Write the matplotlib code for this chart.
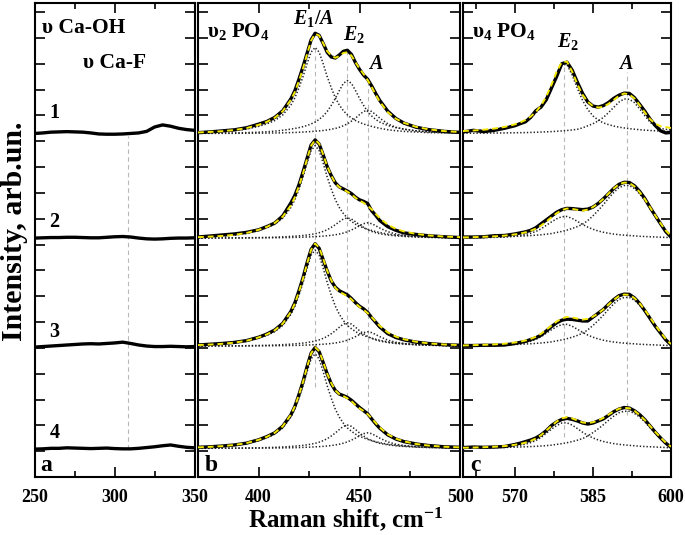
import numpy as np
import matplotlib
matplotlib.use('Agg')
import matplotlib.pyplot as plt

plt.rcParams['font.family'] = ['Liberation Serif', 'DejaVu Serif']
plt.rcParams['font.weight'] = 'bold'
plt.rcParams['mathtext.fontset'] = 'custom'
plt.rcParams['mathtext.rm'] = 'Liberation Serif:bold'
plt.rcParams['mathtext.it'] = 'Liberation Serif:italic:bold'
plt.rcParams['mathtext.bf'] = 'Liberation Serif:bold'

# ---------------- data ----------------
offsets = [13.30, 9.25, 5.07, 1.11]          # vertical stacking of spectra 1..4
labels_num = ['1', '2', '3', '4']

# panel a : 250-350 cm-1
x_a = [250, 255, 260, 265, 270, 275, 280, 285, 290, 295, 300,
       305, 310, 315, 320, 325, 330, 335, 340, 345, 350]
a_s1 = [0.0, 0.02, 0.05, 0.06, 0.07, 0.06, 0.05, 0.02, -0.02, -0.03, -0.03,
        -0.02, 0.0, 0.02, 0.08, 0.25, 0.33, 0.28, 0.2, 0.15, 0.12]
a_s2 = [0, .01, .02, .02, .03, .03, .02, .01, .01, .03, .05,
        .06, .04, .0, -.03, -.04, -.03, -.01, 0, .0, .01]
a_s3 = [-.04, -.02, 0, .02, .04, .06, .08, .09, .08, .1, .12,
        .15, .1, .04, .0, -.02, -.02, -.01, -.02, -.03, -.02]
a_s4 = [-.03, -.02, 0, .0, .02, .01, .0, -.01, .0, .01, -.01,
        -.02, -.02, .0, .03, .06, .1, .13, .08, .04, .02]

# panel b : 370-500 cm-1 (v2 PO4)
x_b = [370, 376, 382, 388, 394, 400, 404, 408, 412, 416, 418, 420, 422, 424,
       426, 428, 430, 432, 434, 436, 438, 440, 442, 444, 446, 448, 450, 452,
       454, 456, 458, 460, 464, 468, 472, 478, 484, 492, 500]
b_s1 = [0.03, 0.06, 0.10, 0.14, 0.22, 0.36, 0.46, 0.62, 0.88, 1.34, 1.66, 2.10, 2.58, 3.10,
        3.62, 3.88, 3.80, 3.48, 3.14, 2.96, 2.92, 3.04, 3.18, 3.22, 3.06, 2.74, 2.48, 2.26,
        2.10, 1.84, 1.55, 1.28, 0.86, 0.58, 0.40, 0.24, 0.15, 0.08, 0.04]
b_s2 = [0.04, 0.08, 0.12, 0.16, 0.22, 0.32, 0.44, 0.58, 0.86, 1.36, 1.66, 2.06, 2.56, 3.08,
        3.60, 3.80, 3.64, 3.22, 2.76, 2.42, 2.14, 1.98, 1.90, 1.82, 1.72, 1.58, 1.48, 1.42,
        1.34, 1.06, 0.88, 0.68, 0.44, 0.30, 0.20, 0.14, 0.09, 0.05, 0.02]
b_s3 = [0.04, 0.07, 0.10, 0.14, 0.21, 0.34, 0.46, 0.62, 0.88, 1.34, 1.68, 2.14, 2.64, 3.22,
        3.74, 3.96, 3.78, 3.34, 2.90, 2.52, 2.28, 2.14, 2.06, 1.98, 1.84, 1.68, 1.54, 1.44,
        1.30, 1.10, 0.92, 0.74, 0.48, 0.33, 0.24, 0.15, 0.10, 0.05, 0.03]
b_s4 = [0.04, 0.06, 0.09, 0.13, 0.20, 0.33, 0.45, 0.60, 0.86, 1.30, 1.63, 2.08, 2.58, 3.16,
        3.68, 3.90, 3.74, 3.32, 2.88, 2.50, 2.24, 2.10, 2.04, 1.97, 1.86, 1.72, 1.58, 1.46,
        1.34, 1.14, 0.95, 0.78, 0.52, 0.36, 0.26, 0.17, 0.11, 0.06, 0.04]
# normalised shapes of fitted bands (E1/A ~428, E2 ~444, A ~454)
b_band_E1A = [0.009, 0.014, 0.021, 0.032, 0.05, 0.082, 0.11, 0.15, 0.215, 0.33, 0.415, 0.53, 0.66,
              0.81, 0.945, 1.0, 0.945, 0.81, 0.66, 0.53, 0.415, 0.33, 0.265, 0.215, 0.18, 0.15,
              0.128, 0.11, 0.095, 0.082, 0.07, 0.06, 0.043, 0.032, 0.024, 0.016, 0.010, 0.006, 0.004]
b_band_E2 = [0.0035, 0.0045, 0.007, 0.010, 0.016, 0.024, 0.032, 0.043, 0.06, 0.082, 0.095, 0.11,
             0.128, 0.15, 0.18, 0.215, 0.265, 0.33, 0.415, 0.53, 0.66, 0.81, 0.945, 1.0, 0.945,
             0.81, 0.66, 0.53, 0.415, 0.33, 0.265, 0.215, 0.15, 0.11, 0.082, 0.05, 0.032, 0.018, 0.010]
b_band_A = [0.002, 0.003, 0.004, 0.005, 0.008, 0.012, 0.016, 0.021, 0.028, 0.037, 0.043, 0.05,
            0.06, 0.07, 0.082, 0.095, 0.11, 0.128, 0.15, 0.18, 0.215, 0.265, 0.33, 0.415, 0.53,
            0.66, 0.81, 0.945, 1.0, 0.945, 0.81, 0.66, 0.415, 0.265, 0.18, 0.11, 0.07, 0.037, 0.021]
b_heights = [[3.33, 2.05, 0.90],
             [3.58, 0.78, 0.59],
             [3.72, 0.90, 0.55],
             [3.66, 0.90, 0.60]]
b_lines = [428, 444, 454]

# panel c : 560-600 cm-1 (v4 PO4)
x_c = [560, 562, 564, 566, 568, 570, 571, 572, 573, 574, 575, 576, 577, 578, 579, 580,
       581, 582, 583, 584, 585, 586, 587, 588, 589, 590, 591, 592, 593, 594, 595, 596,
       597, 598, 599, 600]
c_s1 = [.06, .12, .07, .12, .2, .3, .38, .45, .62, .88, 1.02, 1.3, 1.75, 2.2, 2.7, 2.76,
        2.45, 1.98, 1.55, 1.22, 1.06, 1.02, 1.08, 1.2, 1.36, 1.48, 1.56, 1.55, 1.38, 1.12,
        .85, .55, .3, .1, .02, .04]
c_s2 = [.04, .04, .05, .09, .1, .16, .2, .24, .3, .4, .55, .7, .85, 1.0, 1.1, 1.15,
        1.14, 1.12, 1.1, 1.12, 1.2, 1.34, 1.52, 1.72, 1.92, 2.08, 2.16, 2.15, 2.02, 1.8,
        1.52, 1.18, .86, .55, .25, .04]
c_s3 = [.02, .02, .03, .03, .04, .1, .14, .18, .25, .32, .42, .58, .75, .9, 1.0, 1.04,
        1.03, 1.0, .97, .97, 1.12, 1.27, 1.42, 1.62, 1.8, 1.95, 2.01, 2.0, 1.86, 1.64,
        1.36, 1.06, .76, .5, .24, .05]
c_s4 = [.03, .05, .04, .05, .07, .15, .2, .26, .32, .4, .52, .68, .88, 1.02, 1.12, 1.16,
        1.12, 1.06, .98, .94, .98, 1.06, 1.14, 1.28, 1.42, 1.52, 1.58, 1.56, 1.45, 1.3,
        1.1, .86, .62, .4, .2, .04]
c_band_E2_narrow = [.031, .038, .048, .063, .085, .12, .145, .179, .225, .288, .377, .5, .662,
                    .845, .98, .98, .83, .64, .47, .34, .25, .19, .15, .125, .105, .09, .078,
                    .068, .06, .053, .047, .042, .038, .034, .031, .028]
c_band_A_narrow = [.006, .008, .01, .012, .015, .02, .022, .025, .029, .034, .04, .046, .053,
                   .063, .073, .085, .1, .12, .16, .22, .28, .36, .46, .6, .75, .9, .99, .98,
                   .88, .70, .50, .32, .20, .14, .12, .10]
c_band_E2_wide = [.01, .015, .022, .032, .05, .09, .12, .16, .22, .30, .42, .58, .74, .88, .98,
                  .988, .9, .764, .623, .5, .401, .324, .265, .219, .183, .155, .133, .115, .1,
                  .08, .07, .06, .05, .04, .03, .02]
c_band_A_wide = [.008, .011, .015, .019, .025, .032, .036, .041, .047, .054, .062, .072, .085,
                 .105, .125, .15, .18, .217, .26, .33, .42, .52, .63, .75, .86, .95, .99, .99,
                 .93, .83, .70, .55, .40, .26, .13, .03]
c_heights = [[2.72, 1.35], [0.845, 2.055], [0.85, 1.90], [1.00, 1.45]]
c_lines = [579.5, 591.5]

# ---------------- figure ----------------
W, H = 685, 535
fig = plt.figure(figsize=(W / 100, H / 100), dpi=100)

def px_axes(x0, x1, ytop=3, ybot=477):
    return fig.add_axes([x0 / W, (H - ybot) / H, (x1 - x0) / W, (ybot - ytop) / H])

ax_a = px_axes(35, 194.5)
ax_b = px_axes(198, 460.5)
ax_c = px_axes(463, 671)

YMAX = 18.35
meas_kw = dict(color='black', lw=2.4, solid_joinstyle='round', zorder=3)
fit_kw = dict(color='#f2e600', lw=1.4, dashes=(3.0, 2.0), zorder=4)
comp_kw = dict(color='#222222', lw=1.1, linestyle=(0, (0.9, 1.3)), zorder=2)
vline_kw = dict(colors='#b8b8b8', lw=0.8, linestyles=(0, (4, 3)), zorder=0)

for ax in (ax_a, ax_b, ax_c):
    ax.set_ylim(0, YMAX)
    ax.set_yticks(range(0, 19))
    ax.set_yticklabels([])
    ax.tick_params(axis='y', which='both', direction='in', left=True, right=True,
                   length=7, width=1.2)
    ax.tick_params(axis='x', which='major', direction='in', top=True, bottom=True,
                   length=7, width=1.2, pad=9, labelsize=13)
    ax.tick_params(axis='x', which='minor', direction='in', top=True, bottom=True,
                   length=4, width=1.2)
    for s in ax.spines.values():
        s.set_linewidth(1.5)

# panel a
ax_a.set_xlim(250, 350)
ax_a.set_xticks([250, 300, 350])
ax_a.set_xticks([275, 325], minor=True)
ax_a.vlines(308, 1.1, 13.2, **vline_kw)
for ys, off in zip([a_s1, a_s2, a_s3, a_s4], offsets):
    ax_a.plot(x_a, np.array(ys) + off, **meas_kw)
for lab, yl in zip(labels_num, [13.88, 9.67, 5.41, 1.51]):
    ax_a.text(259, yl, lab, fontsize=14.5, fontweight='bold', va='baseline', ha='left')
ax_a.text(254.4, 17.17, 'υ Ca-OH', fontsize=15.5, fontweight='bold', va='baseline')
ax_a.text(280.1, 15.85, 'υ Ca-F', fontsize=15.5, fontweight='bold', va='baseline')
ax_a.text(253, 0.25, 'a', fontsize=17, fontweight='bold', va='baseline')

# panel b
ax_b.set_xlim(370, 500)
ax_b.set_xticks([400, 450, 500])
ax_b.set_xticks([425, 475], minor=True)
ax_b.vlines(b_lines, [3.5, 3.1, 2.5], [16.6, 16.5, 15.35], **vline_kw)
bands_b = [np.array(b_band_E1A), np.array(b_band_E2), np.array(b_band_A)]
for ys, hts, off in zip([b_s1, b_s2, b_s3, b_s4], b_heights, offsets):
    comps = [h * band for h, band in zip(hts, bands_b)]
    for cp in comps:
        ax_b.plot(x_b, cp + off, **comp_kw)
    ax_b.plot(x_b, np.array(ys) + off, **meas_kw)
    ax_b.plot(x_b, sum(comps) + off, **fit_kw)
ax_b.text(374.3, 17.05, 'υ$_2$ PO$_4$', fontsize=15, fontweight='bold', va='baseline')
ax_b.text(417, 17.54, '$E_1/A$', fontsize=14.5, va='baseline')
ax_b.text(442, 16.9, '$E_2$', fontsize=14.5, va='baseline')
ax_b.text(454.4, 15.8, '$A$', fontsize=14.5, va='baseline')
ax_b.text(373.5, 0.25, 'b', fontsize=17, fontweight='bold', va='baseline')

# panel c
ax_c.set_xlim(560, 600)
ax_c.set_xticks([570, 585, 600])
ax_c.set_xticks([562.5, 577.5, 592.5], minor=True)
ax_c.vlines(c_lines, [1.55, 2.4], [16.0, 15.66], **vline_kw)
for i, (ys, hts, off) in enumerate(zip([c_s1, c_s2, c_s3, c_s4], c_heights, offsets)):
    if i == 0:
        bands = [np.array(c_band_E2_narrow), np.array(c_band_A_narrow)]
    else:
        bands = [np.array(c_band_E2_wide), np.array(c_band_A_wide)]
    comps = [h * band for h, band in zip(hts, bands)]
    for cp in comps:
        ax_c.plot(x_c, cp + off, **comp_kw)
    ax_c.plot(x_c, np.array(ys) + off, **meas_kw)
    ax_c.plot(x_c, sum(comps) + off, **fit_kw)
ax_c.text(561.7, 17.03, 'υ$_4$ PO$_4$', fontsize=15.5, fontweight='bold', va='baseline')
ax_c.text(578.0, 16.64, '$E_2$', fontsize=14.5, va='baseline')
ax_c.text(589.9, 15.8, '$A$', fontsize=14.5, va='baseline')
ax_c.text(561.3, 0.25, 'c', fontsize=17, fontweight='bold', va='baseline')

for ax in (ax_a, ax_b, ax_c):
    for t in ax.get_xticklabels():
        t.set_fontweight('bold')

fig.text(346 / W, 1 - 519 / H, 'Raman shift, cm$^{-1}$', fontsize=18, fontweight='bold',
         ha='center', va='center')
fig.text(15 / W, 1 - 231 / H, 'Intensity, arb.un.', fontsize=21.5, fontweight='bold',
         rotation=90, ha='center', va='center')

fig.savefig('out.png', dpi=100)
